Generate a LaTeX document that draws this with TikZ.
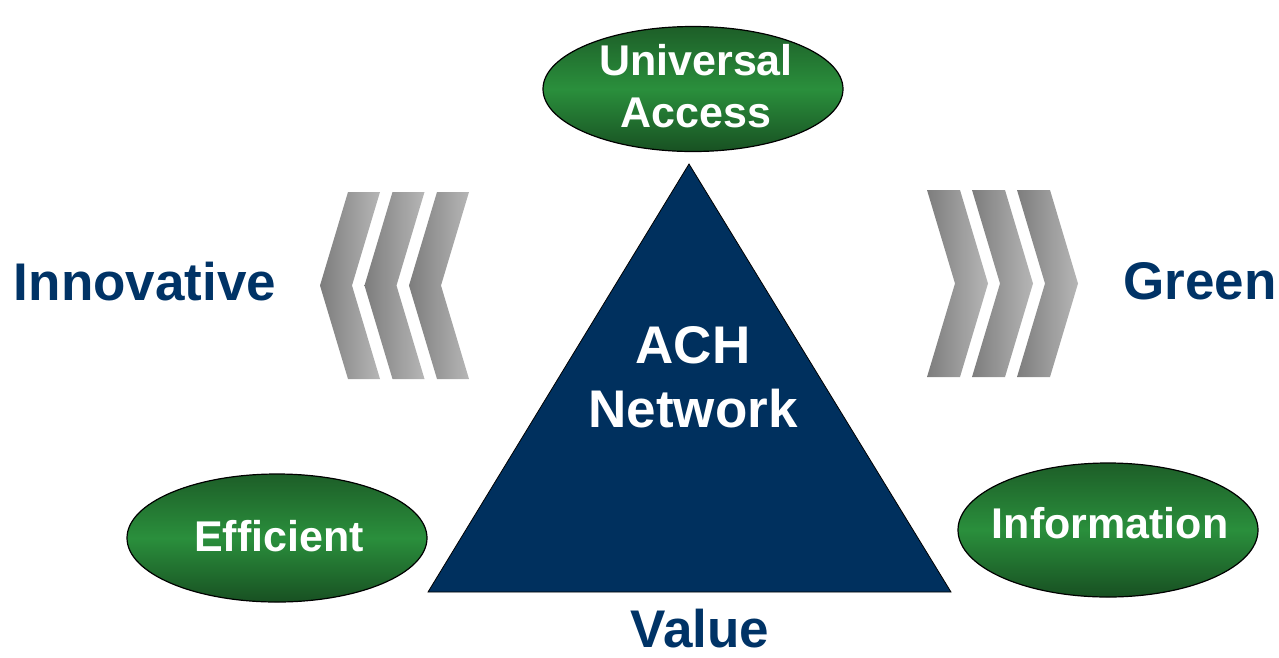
\documentclass[tikz,border=0pt]{standalone}
\usepackage{fontspec}
\setmainfont{Liberation Sans}
\usetikzlibrary{shapes.geometric}
\definecolor{navy}{RGB}{0,48,94}
\definecolor{txtblue}{RGB}{0,51,102}
\definecolor{gtop}{RGB}{29,94,40}
\definecolor{gmid}{RGB}{42,143,60}
\definecolor{gbot}{RGB}{24,80,34}
\definecolor{chdark}{RGB}{125,125,125}
\definecolor{chlight}{RGB}{182,182,182}
\tikzset{
  bigtext/.style={font=\fontsize{53}{64}\selectfont\bfseries, inner sep=0pt},
  outlabel/.style={bigtext, text=txtblue, anchor=base},
  greenell/.style={ellipse, draw=black, line width=1.2pt, inner sep=0pt,
    top color=gtop, bottom color=gbot, middle color=gmid},
  elltext/.style={font=\fontsize{43}{52}\selectfont\bfseries, text=white, inner sep=0pt, align=center},
  chev/.style={left color=chdark, right color=chlight, draw=none},
}
\begin{document}
\begin{tikzpicture}[x=1pt,y=-1pt]
\useasboundingbox (0,0) rectangle (1279,657);
% triangle
\coordinate (apex) at (689,164);
\coordinate (bl) at (428,592);
\coordinate (br) at (951,592);
\draw[fill=navy, draw=black, line width=0.8pt] (apex) -- (br) -- (bl) -- cycle;
\node[bigtext, text=white, align=center, anchor=base] (ach) at (693,363) {ACH};
\node[bigtext, text=white, anchor=base] (net) at (693,427) {Network};
% left chevrons
\foreach \r in {380,424.5,469}{
  \path[chev] (\r-32,192) -- (\r,192) -- (\r-28,285.5) -- (\r,379) -- (\r-32,379) -- (\r-60,285.5) -- cycle;
}
% right chevrons
\foreach \a in {927,972,1017}{
  \path[chev] (\a,190) -- (\a+33,190) -- (\a+61,283.5) -- (\a+33,377) -- (\a,377) -- (\a+28,283.5) -- cycle;
}
% ellipses
\node[greenell, minimum width=300pt, minimum height=125pt] (ua) at (693,89) {};
\node[elltext, anchor=base] (uat) at (696,75) {Universal};
\node[elltext, anchor=base] (uat2) at (696,127) {Access};
\node[greenell, minimum width=300pt, minimum height=128pt] (eff) at (277,538) {};
\node[elltext, anchor=base] (efft) at (279,551) {Efficient};
\node[greenell, minimum width=300pt, minimum height=134pt] (inf) at (1108,530) {};
\node[elltext, anchor=base] (inft) at (1110,538) {Information};
% outer labels
\node[outlabel] (inn) at (145,300) {Innovative};
\node[outlabel] (grn) at (1200,299) {Green};
\node[outlabel] (val) at (700,647) {Value};
\end{tikzpicture}
\end{document}
